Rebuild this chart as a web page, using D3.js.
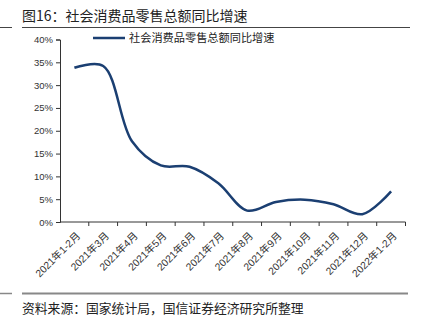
<!DOCTYPE html>
<html>
<head>
<meta charset="utf-8">
<script src="https://cdn.jsdelivr.net/npm/d3@7/dist/d3.min.js"></script>
<style>
  html, body { margin: 0; padding: 0; background: #fff; }
  svg { display: block; }
  text { font-family: "Liberation Sans", Arial, "Noto Sans CJK SC", sans-serif; }
  .cjk { font-family: "Noto Sans CJK SC", "Liberation Sans", sans-serif; }
</style>
</head>
<body>
<svg id="chart" width="424" height="334"></svg>
<script>
// Monthly year-on-year growth of total retail sales of consumer goods
const categories = ["2021年1-2月", "2021年3月", "2021年4月", "2021年5月", "2021年6月", "2021年7月",
  "2021年8月", "2021年9月", "2021年10月", "2021年11月", "2021年12月", "2022年1-2月"];
const growth = [33.8, 34.2, 17.7, 12.4, 12.1, 8.5, 2.5, 4.4, 4.9, 3.9, 1.7, 6.7];
const yTicks = [0, 5, 10, 15, 20, 25, 30, 35, 40];
const seriesName = "社会消费品零售总额同比增速";
const titleText = "图16：社会消费品零售总额同比增速";
const sourceText = "资料来源：国家统计局，国信证券经济研究所整理";

const svg = d3.select("#chart");
const lineColor = "#1b3f72";

// Title and rules
svg.append("text").attr("class", "cjk").attr("x", 22).attr("y", 21)
  .attr("font-size", 14).attr("fill", "#222").text(titleText);
svg.append("line").attr("x1", 22).attr("x2", 410).attr("y1", 27.5).attr("y2", 27.5)
  .attr("stroke", "#444").attr("stroke-width", 1);
svg.append("line").attr("x1", 0).attr("x2", 12).attr("y1", 27.5).attr("y2", 27.5)
  .attr("stroke", "#444").attr("stroke-width", 1);

svg.append("line").attr("x1", 22).attr("x2", 408).attr("y1", 293.5).attr("y2", 293.5)
  .attr("stroke", "#888").attr("stroke-width", 2);
svg.append("line").attr("x1", 0).attr("x2", 12).attr("y1", 293.5).attr("y2", 293.5)
  .attr("stroke", "#888").attr("stroke-width", 1.5);
svg.append("text").attr("class", "cjk").attr("x", 22).attr("y", 313)
  .attr("font-size", 12.8).attr("fill", "#222").text(sourceText);

// Plot area
const plotLeft = 60, plotRight = 405.5, plotTop = 39.5, plotBottom = 222;
const x = d3.scaleBand().domain(categories).range([plotLeft, plotRight]);
const y = d3.scaleLinear().domain([0, 40]).range([plotBottom, plotTop]);

const yAxis = svg.append("g").attr("transform", `translate(${plotLeft},0)`)
  .call(d3.axisLeft(y).tickValues(yTicks).tickFormat(d => d + "%").tickSize(4).tickPadding(3));
yAxis.select(".domain").attr("stroke", "#333");
yAxis.selectAll(".tick line").attr("stroke", "#333");
yAxis.selectAll("text").attr("font-size", 9.5).attr("fill", "#333");

// X axis: ticks at the band edges, labels at band centres
const xg = svg.append("g").attr("transform", `translate(0,${plotBottom})`);
xg.append("line").attr("x1", plotLeft).attr("x2", plotRight).attr("stroke", "#333");
const edges = categories.map(c => x(c)).concat([plotRight]);
xg.selectAll(".edge").data(edges.slice(1)).join("line")
  .attr("x1", d => d).attr("x2", d => d).attr("y1", 0).attr("y2", 4).attr("stroke", "#333");
xg.selectAll(".lbl").data(categories).join("text")
  .attr("transform", d => `translate(${x(d) + x.bandwidth() / 2 + 4},${12}) rotate(-45)`)
  .attr("text-anchor", "end").attr("dy", "0.35em")
  .attr("font-size", 10.3).attr("fill", "#333").text(d => d);

// Series line
const line = d3.line()
  .x((d, i) => x(categories[i]) + x.bandwidth() / 2)
  .y(d => y(d))
  .curve(d3.curveCatmullRom.alpha(0.5));
svg.append("path").datum(growth).attr("d", line)
  .attr("fill", "none").attr("stroke", lineColor).attr("stroke-width", 2.5);

// Legend
svg.append("line").attr("x1", 93).attr("x2", 125).attr("y1", 38).attr("y2", 38)
  .attr("stroke", lineColor).attr("stroke-width", 2.5);
svg.append("text").attr("class", "cjk").attr("x", 129).attr("y", 38).attr("dy", "0.35em")
  .attr("font-size", 11.2).attr("fill", "#222").text(seriesName);
</script>
</body>
</html>
